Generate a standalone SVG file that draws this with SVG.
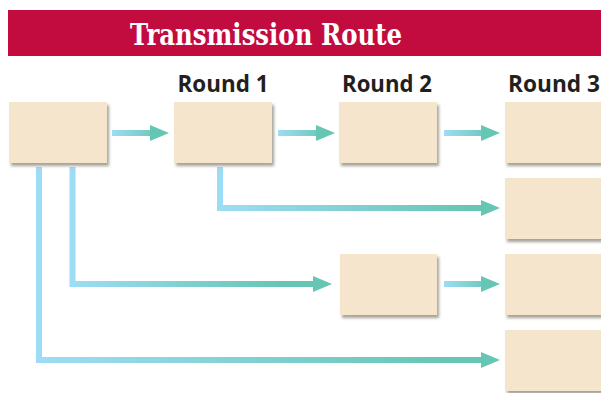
<svg xmlns="http://www.w3.org/2000/svg" width="601" height="393" viewBox="0 0 601 393">
<style>
.box{fill:#F6E5CD;filter:url(#sh)}
.lbl{font-family:"Open Sans","Liberation Sans",sans-serif;font-weight:bold;font-size:23px;fill:#231F20}
.title{font-family:"DejaVu Serif",serif;font-weight:bold;font-size:29px;fill:#fff}
.con{fill:none;stroke-width:6;marker-end:url(#ah)}
</style>
<defs>
<filter id="sh" x="-10%" y="-10%" width="130%" height="140%">
<feDropShadow dx="2" dy="3" stdDeviation="1.6" flood-color="#6b6355" flood-opacity="0.6"/>
</filter>
<marker id="ah" markerUnits="userSpaceOnUse" markerWidth="19" markerHeight="16" refX="2" refY="8" orient="auto" viewBox="0 0 19 16">
<path d="M0,0 L19,8 L0,16 z" fill="#66C6B4"/>
</marker>
<linearGradient id="g1" gradientUnits="userSpaceOnUse" x1="112" y1="0" x2="160" y2="0"><stop offset="0" stop-color="#9DDCF5"/><stop offset="1" stop-color="#66C6B4"/></linearGradient>
<linearGradient id="g2" gradientUnits="userSpaceOnUse" x1="278" y1="0" x2="326" y2="0"><stop offset="0" stop-color="#9DDCF5"/><stop offset="1" stop-color="#66C6B4"/></linearGradient>
<linearGradient id="g3" gradientUnits="userSpaceOnUse" x1="444" y1="0" x2="492" y2="0"><stop offset="0" stop-color="#9DDCF5"/><stop offset="1" stop-color="#66C6B4"/></linearGradient>
<linearGradient id="g4" gradientUnits="userSpaceOnUse" x1="220" y1="0" x2="470" y2="0"><stop offset="0" stop-color="#9DDCF5"/><stop offset="1" stop-color="#66C6B4"/></linearGradient>
<linearGradient id="g5" gradientUnits="userSpaceOnUse" x1="72" y1="0" x2="280" y2="0"><stop offset="0" stop-color="#9DDCF5"/><stop offset="1" stop-color="#66C6B4"/></linearGradient>
<linearGradient id="g6" gradientUnits="userSpaceOnUse" x1="39" y1="0" x2="450" y2="0"><stop offset="0" stop-color="#9DDCF5"/><stop offset="1" stop-color="#66C6B4"/></linearGradient>
</defs>
<rect width="601" height="393" fill="#fff"/>
<g id="banner">
<rect x="8" y="10" width="593" height="46" fill="#C20B3F"/>
<text class="title" x="266" y="45" text-anchor="middle" textLength="272" lengthAdjust="spacingAndGlyphs">Transmission Route</text>
</g>
<g id="labels">
<text class="lbl" x="223" y="92" text-anchor="middle" textLength="91" lengthAdjust="spacingAndGlyphs">Round 1</text>
<text class="lbl" x="387" y="92" text-anchor="middle" textLength="90" lengthAdjust="spacingAndGlyphs">Round 2</text>
<text class="lbl" x="554" y="92" text-anchor="middle" textLength="92" lengthAdjust="spacingAndGlyphs">Round 3</text>
</g>
<g id="connectors">
<path class="con" stroke="url(#g1)" d="M112,133 H152"/>
<path class="con" stroke="url(#g2)" d="M278,133 H318"/>
<path class="con" stroke="url(#g3)" d="M444,133 H483"/>
<path class="con" stroke="url(#g4)" d="M220,167 V208 H483"/>
<path class="con" stroke="url(#g5)" d="M72.5,167 V284 H315"/>
<path class="con" stroke="url(#g6)" d="M39,167 V360 H483"/>
<path class="con" stroke="url(#g3)" d="M444,284 H483"/>
</g>
<g id="n0"><rect class="box" x="9" y="102" width="98" height="61"/></g>
<g id="n1"><rect class="box" x="174" y="102" width="98" height="61"/></g>
<g id="n2"><rect class="box" x="339" y="102" width="98" height="61"/></g>
<g id="n3"><rect class="box" x="505" y="102" width="110" height="61"/></g>
<g id="n4"><rect class="box" x="505" y="178" width="110" height="61"/></g>
<g id="n5"><rect class="box" x="340" y="254" width="97" height="61"/></g>
<g id="n6"><rect class="box" x="505" y="254" width="110" height="61"/></g>
<g id="n7"><rect class="box" x="505" y="330" width="110" height="61"/></g>
</svg>
